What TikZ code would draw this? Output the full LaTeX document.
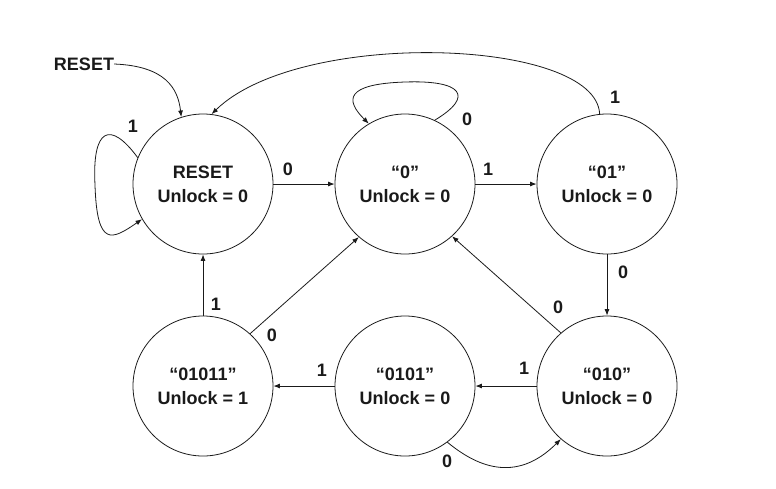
\documentclass[tikz,border=0pt]{standalone}
\usepackage{fontspec}
\setmainfont{Liberation Sans}
\usetikzlibrary{arrows.meta}
\definecolor{fsmInk}{HTML}{1A1A1A}
\tikzset{
  fsmstate/.style ={circle,draw=fsmInk,line width=0.8pt,minimum size=140pt,inner sep=0pt,
                    align=center,font=\fontsize{18}{24}\selectfont\bfseries,text=fsmInk},
  trans/.style    ={-{Latex[length=6.5pt,width=5pt]},fsmInk,line width=0.8pt},
  lbl/.style      ={font=\fontsize{18}{20}\selectfont\bfseries,text=fsmInk,inner sep=0pt},
}

\begin{document}
\begin{tikzpicture}[x=1pt,y=-1pt]
\useasboundingbox (0,0) rectangle (776,488);

%% states
\node[fsmstate] (rst)   at (203,184) {RESET\\Unlock = 0};
\node[fsmstate] (s0)    at (405,184) {“0”\\Unlock = 0};
\node[fsmstate] (s01)   at (607,184) {“01”\\Unlock = 0};
\node[fsmstate] (s01011) at (203,386) {“01011”\\Unlock = 1};
\node[fsmstate] (s0101) at (405,386) {“0101”\\Unlock = 0};
\node[fsmstate] (s010)  at (607,386) {“010”\\Unlock = 0};
\node[lbl] (rstin) at (84,64) {RESET};

%% transitions
\draw[trans] (rstin.east) .. controls (165,66) and (178,88) .. (rst.108);
\draw[trans] (rst.158) .. controls (110,120) and (92,128) .. (95,185)
                       .. controls (97,248) and (112,240) .. (rst.210);
\draw[trans] (rst.east) -- (s0.west);
\draw[trans] (s0.65) .. controls (475,96) and (462,80) .. (405,82)
                     .. controls (345,84) and (345,100) .. (s0.121);
\draw[trans] (s0.east) -- (s01.west);
\draw[trans] (s01.96) .. controls (596,38) and (300,28) .. (rst.83);
\draw[trans] (s01.south) -- (s010.north);
\draw[trans] (s010.131) -- (s0.312);
\draw[trans] (s010.west) -- (s0101.east);
\draw[trans] (s0101.307) .. controls (475,465) and (515,485) .. (s010.229);
\draw[trans] (s0101.west) -- (s01011.east);
\draw[trans] (s01011.north) -- (rst.south);
\draw[trans] (s01011.48) -- (s0.229);

%% input labels
\node[lbl] (lA) at (133,126) {1};
\node[lbl] (lB) at (288,169) {0};
\node[lbl] (lC) at (467,119) {0};
\node[lbl] (lD) at (488,169) {1};
\node[lbl] (lE) at (615,97)  {1};
\node[lbl] (lF) at (623,272) {0};
\node[lbl] (lG) at (558,307) {0};
\node[lbl] (lH) at (216,304) {1};
\node[lbl] (lI) at (272,335) {0};
\node[lbl] (lJ) at (322,370) {1};
\node[lbl] (lK) at (524,368) {1};
\node[lbl] (lL) at (447,461) {0};
\end{tikzpicture}
\end{document}
